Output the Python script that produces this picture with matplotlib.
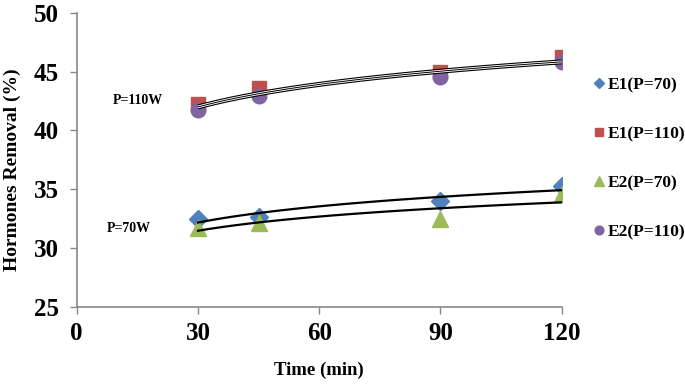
import numpy as np
import matplotlib.pyplot as plt

# data
time_min = [30, 45, 90, 120]
e1_p70 = [32.5, 32.6, 34.0, 35.3]
e1_p110 = [42.2, 43.6, 45.0, 46.2]
e2_p70 = [31.7, 32.1, 32.5, 34.6]
e2_p110 = [41.7, 42.9, 44.5, 45.8]

labels = ["E1(P=70)", "E1(P=110)", "E2(P=70)", "E2(P=110)"]
colors = ["#4F81BD", "#C0504D", "#9BBB59", "#8064A2"]
markers = ["D", "s", "^", "o"]
sizes = [9, 10.5, 11, 10.5]

x_ticks = [0, 30, 60, 90, 120]
y_ticks = [25, 30, 35, 40, 45, 50]

plt.rcParams["font.family"] = ["Liberation Serif", "DejaVu Serif"]
plt.rcParams["font.weight"] = "bold"

fig = plt.figure(figsize=(6.85, 3.85), dpi=100)
ax = fig.add_axes([0.112, 0.203, 0.708, 0.764])

x = np.array(time_min, dtype=float)
xs = np.linspace(30, 120, 100)


def log_fit(xv, yv):
    a, b = np.polyfit(np.log(xv), yv, 1)
    return a * np.log(xs) + b


# 70 W: two separate log trend lines
for ys in [e1_p70, e2_p70]:
    ax.plot(xs, log_fit(x, ys), color="black", lw=1.6, zorder=3)

# 110 W: both trend lines sit on top of each other -> double line look
y110 = log_fit(np.concatenate([x, x]), np.array(e1_p110 + e2_p110))
ax.plot(xs, y110, color="black", lw=3.6, zorder=3, solid_capstyle="butt")
ax.plot(xs, y110, color="white", lw=2.0, zorder=3, solid_capstyle="butt")
ax.plot(xs, y110, color="black", lw=0.7, zorder=3, solid_capstyle="butt")

series = [e1_p70, e1_p110, e2_p70, e2_p110]
for ys, lab, c, m, s in zip(series, labels, colors, markers, sizes):
    ax.plot(time_min, ys, linestyle="none", marker=m, color=c,
            markersize=s, label=lab, zorder=2)

ax.set_xlim(0, 120)
ax.set_ylim(25, 50)
ax.set_xticks(x_ticks)
ax.set_yticks(y_ticks)
ax.tick_params(labelsize=18, color="#888888", length=5, width=1)
ax.tick_params(axis="x", pad=6)
ax.tick_params(axis="y", pad=8)
for lbl in ax.get_xticklabels() + ax.get_yticklabels():
    lbl.set_fontweight("bold")

for side in ["top", "right"]:
    ax.spines[side].set_visible(False)
for side in ["left", "bottom"]:
    ax.spines[side].set_color("#888888")
    ax.spines[side].set_linewidth(1.2)

ax.set_xlabel("Time (min)", fontsize=13.5, fontweight="bold")
ax.set_ylabel("Hormones Removal (%)", fontsize=14, fontweight="bold")
ax.xaxis.set_label_coords(0.5, (1 - 370 / 385 - 0.203) / 0.764)
ax.yaxis.set_label_coords((12 / 685 - 0.112) / 0.708, (1 - 170 / 385 - 0.203) / 0.764)
ax.xaxis.label.set_va("center")
ax.yaxis.label.set_va("center")

ax.text(113 / 685, 1 - 101 / 385, "P=110W", transform=fig.transFigure,
        fontsize=10, fontweight="bold", va="center")
ax.text(107 / 685, 1 - 229 / 385, "P=70W", transform=fig.transFigure,
        fontsize=10, fontweight="bold", va="center")

leg = ax.legend(loc="upper left", bbox_to_anchor=(595 / 685, 1 - 77 / 385),
                bbox_transform=fig.transFigure, frameon=False, fontsize=12.5,
                labelspacing=1.9, handlelength=0.5, handletextpad=0.25,
                markerscale=0.6, borderaxespad=0, borderpad=0)
for t in leg.get_texts():
    t.set_fontweight("bold")

fig.savefig("out.png", dpi=100)
